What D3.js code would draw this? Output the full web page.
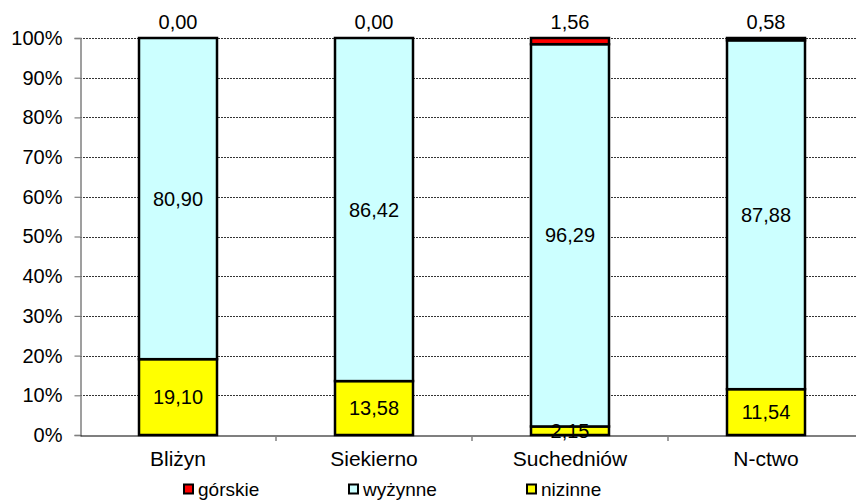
<!DOCTYPE html>
<html><head><meta charset="utf-8">
<script src="https://cdn.jsdelivr.net/npm/d3@7"></script>
<style>body{margin:0;background:#fff}svg{display:block;font-family:"Liberation Sans",Arial,sans-serif}</style>
</head><body><svg id="c" width="856" height="500"></svg>
<script>
const categories = ["Bliżyn","Siekierno","Suchedniów","N-ctwo"];
const seriesNames = ["nizinne","wyżynne","górskie"];
const nizinne = [19.10,13.58,2.15,11.54];
const wyzynne = [80.90,86.42,96.29,87.88];
const gorskie = [0.00,0.00,1.56,0.58];
const yTicks = [0,10,20,30,40,50,60,70,80,90,100];
const colors = {"górskie":"#FF0000","wyżynne":"#CCFFFF","nizinne":"#FFFF00"};
const legendOrder = ["górskie","wyżynne","nizinne"];

const svg = d3.select("#c");
const FF = "Liberation Sans, Arial, sans-serif";
const x0 = 80, x1 = 864, yTop = 38, yBot = 435;
const xb = d3.scaleBand().domain(categories).range([x0,x1]);
const y = d3.scaleLinear().domain([0,100]).range([yBot,yTop]);
const fmt = v => v.toFixed(2).replace(".",",");

// gridlines
svg.append("g").selectAll("line").data(yTicks.filter(t=>t>0)).join("line")
  .attr("x1",x0).attr("x2",856).attr("y1",d=>Math.round(y(d))+0.5).attr("y2",d=>Math.round(y(d))+0.5)
  .attr("stroke","#000").attr("stroke-width",0.8).attr("stroke-dasharray","2,1");

// y axis
const ya = svg.append("g").attr("transform",`translate(${x0+0.5},0)`)
  .call(d3.axisLeft(y).tickValues(yTicks).tickFormat(d=>d+"%").tickSize(6).tickPadding(12));
ya.select(".domain").attr("stroke","#808080").attr("stroke-width",1.5);
ya.selectAll(".tick line").attr("stroke","#808080").attr("stroke-width",1.2);
ya.selectAll("text").attr("font-size",20).attr("fill","#000").attr("font-family",FF);

// x axis
const xa = svg.append("g").attr("transform",`translate(0,${yBot+0.5})`)
  .call(d3.axisBottom(xb).tickSize(0).tickPadding(16));
xa.select(".domain").attr("stroke","#000").attr("stroke-width",1.2);
xa.selectAll("text").attr("font-size",21).attr("fill","#000").attr("font-family",FF);
svg.append("g").selectAll("line").data(categories.map((c,i)=>x0+(i+1)*xb.bandwidth())).join("line")
  .attr("x1",d=>d).attr("x2",d=>d).attr("y1",yBot).attr("y2",yBot+6).attr("stroke","#808080").attr("stroke-width",1.5);

// stacked data
const table = categories.map((c,i)=>({cat:c, "nizinne":nizinne[i], "wyżynne":wyzynne[i], "górskie":gorskie[i]}));
const stack = d3.stack().keys(seriesNames)(table);
const bw = 78;
const layers = svg.append("g").selectAll("g").data(stack).join("g").attr("fill",d=>colors[d.key]);
layers.selectAll("rect").data(d=>d).join("rect")
  .attr("x",d=>xb(d.data.cat)+xb.bandwidth()/2-bw/2)
  .attr("width",bw)
  .attr("y",d=>y(d[1]))
  .attr("height",d=>Math.max(0,y(d[0])-y(d[1])))
  .attr("stroke","#000").attr("stroke-width",2.5);

// labels
stack.forEach(layer=>{
  layer.forEach(d=>{
    const v = d.data[layer.key];
    const cx = xb(d.data.cat)+xb.bandwidth()/2;
    let cy;
    if(layer.key==="górskie") cy = 22;
    else cy = (y(d[0])+y(d[1]))/2;
    svg.append("text").attr("x",cx).attr("y",cy).attr("dy","0.35em").attr("text-anchor","middle")
      .attr("font-size",20).attr("fill","#000").text(fmt(v));
  });
});

// legend
const lx = [183,348,526];
const lg = svg.append("g").selectAll("g").data(legendOrder).join("g")
  .attr("transform",(d,i)=>`translate(${lx[i]},489)`);
lg.append("rect").attr("x",1).attr("y",-4.5).attr("width",9).attr("height",9)
  .attr("fill",d=>colors[d]).attr("stroke","#000").attr("stroke-width",2);
lg.append("text").attr("x",15).attr("y",0).attr("dy","0.35em").attr("font-size",19).text(d=>d);
</script></body></html>
